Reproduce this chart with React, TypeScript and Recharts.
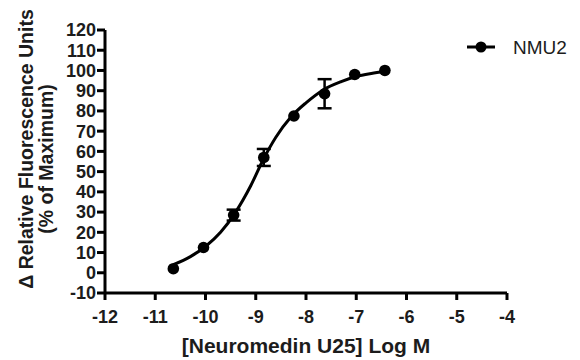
import React from 'react';
import { ComposedChart, Line, Scatter, ErrorBar, XAxis, YAxis } from 'recharts';

// measured points (4-fold dilutions), mean ± SEM
const doseLogM = [-10.64, -10.04, -9.44, -8.84, -8.24, -7.63, -7.03, -6.43];
const response = [2, 12.5, 28.5, 57, 77.5, 88.5, 98, 100];
const responseErr = [0, 0, 2.7, 4.2, 0, 7.2, 0, 0];

// fitted curve
const curveLogM = [-10.64, -10.3, -10.0, -9.7, -9.4, -9.1, -8.85, -8.6, -8.3, -8.0, -7.65, -7.3, -7.0, -6.7, -6.43];
const curveFit = [4, 8, 13, 20, 30, 43, 56, 67, 77, 84, 90.5, 94.5, 97, 98.5, 99.5];

const xTicks = [-12, -11, -10, -9, -8, -7, -6, -5, -4];
const yTicks = [-10, 0, 10, 20, 30, 40, 50, 60, 70, 80, 90, 100, 110, 120];

const FONT = 'Arial, "Liberation Sans", sans-serif';
const INK = '#1c1c1c';

const points = doseLogM.map((x, i) => ({ x, y: response[i], err: responseErr[i] }));
const curve = curveLogM.map((x, i) => ({ x, y: curveFit[i] }));

const tickStyle = { fontSize: 18, fontWeight: 700, fill: INK, fontFamily: FONT };

const YTitle = () => (
  <g fontFamily={FONT} fontWeight={700} fontSize={19.5} fill={INK} textAnchor="middle">
    <text x={25.5} y={149} transform="rotate(-90 25.5 149)" dominantBaseline="central">
      Δ Relative Fluorescence Units
    </text>
    <text x={45.5} y={159} transform="rotate(-90 45.5 159)" dominantBaseline="central">
      (% of Maximum)
    </text>
  </g>
);

const XTitle = () => (
  <text x={306} y={353} textAnchor="middle" fontFamily={FONT} fontWeight={700} fontSize={21} fill={INK}>
    [Neuromedin U25] Log M
  </text>
);

// legend drawn as an overlay so it takes no room from the plot
const LegendBox = () => (
  <svg width={116} height={24} style={{ position: 'absolute', left: 462, top: 35 }}>
    <line x1={5} y1={12} x2={33} y2={12} stroke="#000" strokeWidth={3} />
    <circle cx={19} cy={12} r={5.5} fill="#000" />
    <text x={51} y={12} dominantBaseline="central" fontFamily={FONT} fontSize={19} fill={INK}>
      NMU2
    </text>
  </svg>
);

export default function App() {
  return (
    <div style={{ position: 'absolute', left: 0, top: 0, width: 580, height: 360, background: '#fff' }}>
      <ComposedChart width={580} height={360} margin={{ top: 30, right: 73, bottom: 0, left: 0 }}>
        <XAxis
          dataKey="x"
          type="number"
          domain={[-12, -4]}
          ticks={xTicks}
          allowDataOverflow
          height={67}
          axisLine={{ stroke: '#000', strokeWidth: 3 }}
          tickLine={{ stroke: '#000', strokeWidth: 3 }}
          tickSize={7}
          tickMargin={10}
          tick={tickStyle}
          label={{ content: () => <XTitle /> }}
        />
        <YAxis
          type="number"
          domain={[-10, 120]}
          ticks={yTicks}
          interval={0}
          width={105}
          axisLine={{ stroke: '#000', strokeWidth: 3 }}
          tickLine={{ stroke: '#000', strokeWidth: 3 }}
          tickSize={8}
          tickMargin={1}
          tick={tickStyle}
          label={{ content: () => <YTitle /> }}
        />
        <Line
          data={curve}
          dataKey="y"
          type="monotone"
          stroke="#000"
          strokeWidth={3}
          dot={false}
          activeDot={false}
          isAnimationActive={false}
        />
        <Scatter
          data={points}
          dataKey="y"
          fill="#000"
          isAnimationActive={false}
          shape={(p: any) => <circle cx={p.cx} cy={p.cy} r={5.8} fill="#000" />}
        >
          <ErrorBar dataKey="err" direction="y" width={7} stroke="#000" strokeWidth={2.5} />
        </Scatter>
      </ComposedChart>
      <LegendBox />
    </div>
  );
}
